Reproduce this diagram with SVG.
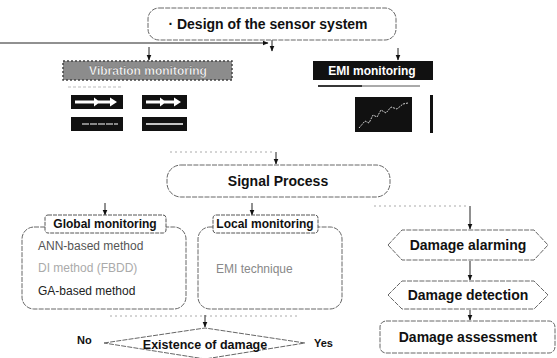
<svg xmlns="http://www.w3.org/2000/svg" width="557" height="358" viewBox="0 0 557 358">
<defs>
<marker id="ah" viewBox="0 0 6 6" refX="5.5" refY="3" markerWidth="6" markerHeight="6" orient="auto" markerUnits="userSpaceOnUse">
<path d="M0,0.5 L6,3 L0,5.5 Z" fill="#111"/>
</marker>
<style>
.box{fill:#fff;stroke:#666;stroke-width:1;stroke-dasharray:5 1.2}
.lbl{fill:#fff;stroke:#555;stroke-width:1;stroke-dasharray:4 1}
.t{font-family:"Liberation Sans",Arial,sans-serif;fill:#111}
.b{font-weight:bold}
.c{text-anchor:middle}
.ln{stroke:#222;stroke-width:1;fill:none}
.faint{stroke:#aaa;stroke-width:1;stroke-dasharray:2 3;fill:none}
</style>
</defs>
<rect width="557" height="358" fill="#fff"/>

<g id="connectors">
<line class="ln" x1="0" y1="43" x2="268" y2="43" marker-end="url(#ah)"/>
<line class="ln" x1="272" y1="40" x2="272" y2="51" marker-end="url(#ah)"/>
<line class="ln" x1="149" y1="47" x2="149" y2="60" marker-end="url(#ah)"/>
<line class="ln" x1="398" y1="48" x2="398" y2="60" marker-end="url(#ah)"/>
<line class="faint" x1="170" y1="152" x2="272" y2="152"/>
<line class="ln" x1="276" y1="152" x2="276" y2="164" marker-end="url(#ah)"/>
<line class="ln" x1="105" y1="203" x2="105" y2="215" marker-end="url(#ah)"/>
<line class="ln" x1="252" y1="203" x2="252" y2="215" marker-end="url(#ah)"/>
<line class="faint" x1="374" y1="206" x2="468" y2="206"/>
<line class="ln" x1="470" y1="206" x2="470" y2="229" marker-end="url(#ah)"/>
<line class="ln" x1="470" y1="261" x2="470" y2="280" marker-end="url(#ah)"/>
<line class="ln" x1="470" y1="310" x2="470" y2="320" marker-end="url(#ah)"/>
<line class="faint" x1="110" y1="316" x2="300" y2="316"/>
<line class="ln" x1="205" y1="315" x2="205" y2="327" marker-end="url(#ah)"/>
</g>

<g id="design">
<rect class="box" x="148" y="8" width="248" height="32" rx="11"/>
<text class="t b c" x="268" y="29" font-size="14">· Design of the sensor system</text>
</g>

<g id="vibration">
<rect x="63" y="61" width="169" height="19" fill="#8c8c8c"/>
<rect x="63" y="61" width="169" height="19" fill="none" stroke="#444" stroke-width="1.5" stroke-dasharray="2 2"/>
<text class="t b c" x="148" y="75" font-size="12" style="fill:#fff" stroke="#555" stroke-width="0.3">Vibration monitoring</text>
<line x1="68" y1="87" x2="123" y2="87" stroke="#bbb" stroke-width="1" stroke-dasharray="3 2"/>
<rect x="71" y="95" width="52" height="14" fill="#111"/>
<path d="M75,100.5 L94,100.5 L94,97.5 L100,102 L94,106.5 L94,103.5 L75,103.5 Z M98,100.5 L110,100.5 L110,97.5 L117,102 L110,106.5 L110,103.5 L98,103.5 Z" fill="#fff"/>
<rect x="142" y="95" width="45" height="14" fill="#111"/>
<path d="M146,100.5 L160,100.5 L160,97.5 L166,102 L160,106.5 L160,103.5 L146,103.5 Z M164,100.5 L174,100.5 L174,97.5 L181,102 L174,106.5 L174,103.5 L164,103.5 Z" fill="#fff"/>
<rect x="71" y="117" width="52" height="14" fill="#111"/>
<line x1="82" y1="124" x2="118" y2="124" stroke="#fff" stroke-width="1.2" stroke-dasharray="7 1"/>
<rect x="142" y="117" width="45" height="14" fill="#111"/>
<line x1="146" y1="124" x2="183" y2="124" stroke="#fff" stroke-width="1.5"/>
</g>

<g id="emi">
<rect x="313" y="61" width="120" height="19" fill="#111"/>
<text class="t b c" x="372" y="75" font-size="12" style="fill:#fff">EMI monitoring</text>
<line x1="318" y1="86" x2="420" y2="86" stroke="#555" stroke-width="1"/>
<line x1="318" y1="86" x2="362" y2="86" stroke="#111" stroke-width="1.5"/>
<rect x="355" y="97" width="57" height="35" fill="#111"/>
<polyline points="359,128 365,121 369,123 373,115 377,117 381,110 386,113 391,107 397,109 403,104 408,103" fill="none" stroke="#fff" stroke-width="0.8" stroke-dasharray="2 1"/>
<rect x="430" y="95" width="3" height="38" fill="#111"/>
</g>

<g id="signal">
<rect class="box" x="167" y="165" width="223" height="32" rx="14"/>
<text class="t b c" x="278" y="186" font-size="14">Signal Process</text>
</g>

<g id="global">
<rect class="box" x="22" y="227" width="164" height="82" rx="12"/>
<rect class="lbl" x="45" y="215" width="121" height="18" rx="3"/>
<text class="t b c" x="105" y="228" font-size="12">Global monitoring</text>
<text class="t" x="38" y="250" font-size="12" style="fill:#555">ANN-based method</text>
<text class="t" x="38" y="272" font-size="12" style="fill:#aaa">DI method (FBDD)</text>
<text class="t" x="38" y="295" font-size="12" style="fill:#222">GA-based method</text>
</g>

<g id="local">
<rect class="box" x="198" y="227" width="144" height="82" rx="12"/>
<rect class="lbl" x="213" y="215" width="105" height="18" rx="3"/>
<text class="t b c" x="265" y="228" font-size="12">Local monitoring</text>
<text class="t" x="216" y="273" font-size="12" style="fill:#888">EMI technique</text>
</g>

<g id="existence">
<polygon class="box" points="104,343 205,328 305,343 205,359"/>
<text class="t b c" x="205" y="349" font-size="12.5">Existence of damage</text>
<text class="t b" x="77" y="344" font-size="11">No</text>
<text class="t b" x="314" y="347" font-size="11">Yes</text>
</g>

<g id="alarming">
<polygon class="box" points="388,245 402,230 534,230 548,245 534,260 402,260"/>
<text class="t b c" x="468" y="250" font-size="14">Damage alarming</text>
</g>

<g id="detection">
<polygon class="box" points="388,295 402,281 534,281 548,295 534,309 402,309"/>
<text class="t b c" x="468" y="300" font-size="14">Damage detection</text>
</g>

<g id="assessment">
<rect class="box" x="380" y="321" width="175" height="32" rx="6"/>
<text class="t b c" x="468" y="342" font-size="14">Damage assessment</text>
</g>
</svg>
